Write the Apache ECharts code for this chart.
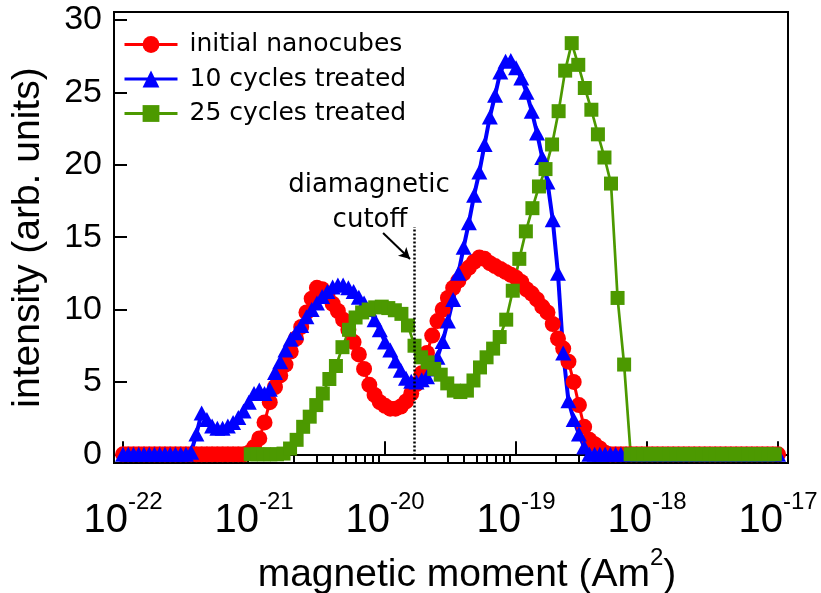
<!DOCTYPE html>
<html><head><meta charset="utf-8">
<script src="https://cdn.jsdelivr.net/npm/echarts@6/dist/echarts.min.js"></script>
<style>html,body{margin:0;padding:0;background:#fff}#c{width:821px;height:593px}</style>
</head><body><div id="c"></div>
<script>
// x positions: log10 of magnetic moment (Am^2)
const expRB = [
-22.00,-21.96,-21.92,-21.88,-21.84,-21.80,-21.76,-21.72,-21.68,-21.64,
-21.60,-21.56,-21.52,-21.48,-21.44,-21.40,-21.36,-21.32,-21.28,-21.24,
-21.20,-21.16,-21.12,-21.08,-21.04,-21.00,-20.96,-20.92,-20.88,-20.84,
-20.80,-20.76,-20.72,-20.68,-20.64,-20.60,-20.56,-20.52,-20.48,-20.44,
-20.40,-20.36,-20.32,-20.28,-20.24,-20.20,-20.16,-20.12,-20.08,-20.04,
-20.00,-19.96,-19.92,-19.88,-19.84,-19.80,-19.76,-19.72,-19.68,-19.64,
-19.60,-19.56,-19.52,-19.48,-19.44,-19.40,-19.36,-19.32,-19.28,-19.24,
-19.20,-19.16,-19.12,-19.08,-19.04,-19.00,-18.96,-18.92,-18.88,-18.84,
-18.80,-18.76,-18.72,-18.68,-18.64,-18.60,-18.56,-18.52,-18.48,-18.44,
-18.40,-18.36,-18.32,-18.28,-18.24,-18.20,-18.16,-18.12,-18.08,-18.04,
-18.00,-17.96,-17.92,-17.88,-17.84,-17.80,-17.76,-17.72,-17.68,-17.64,
-17.60,-17.56,-17.52,-17.48,-17.44,-17.40,-17.36,-17.32,-17.28,-17.24,
-17.20,-17.16,-17.12,-17.08,-17.04,-17.00];

const initialNanocubes = [
0,0,0,0,0,0,0,0,0,0,
0,0,0,0,0,0,0,0,0,0,
0,0,0,0,0.1,0.5,1.1,2.2,3.6,4.65,
5.45,6.2,7.1,8.0,8.8,9.8,10.75,11.5,11.4,11.0,
10.4,9.9,9.3,8.6,7.75,6.9,5.9,4.8,4.1,3.6,
3.35,3.15,3.15,3.3,3.65,4.2,4.85,5.6,7.0,8.2,
9.2,10.0,10.8,11.5,12.0,12.5,12.9,13.3,13.6,13.5,
13.2,13.0,12.8,12.6,12.4,12.2,11.9,11.4,11.1,10.7,
10.2,9.8,9.0,8.0,7.3,6.4,5.0,3.4,1.9,1.0,
0.7,0.4,0.1,0,0,0,0,0,0,0,
0,0,0,0,0,0,0,0,0,0,
0,0,0,0,0,0,0,0,0,0,
0,0,0,0,0,0];

const cycles10 = [
0,0,0,0,0,0,0,0,0,0,
0,0,0,0.15,1.4,2.85,2.4,1.95,1.8,1.8,
1.95,2.2,2.55,3.0,3.6,4.2,4.45,4.2,4.5,5.65,
6.4,7.2,7.95,8.4,8.9,9.5,10.0,10.45,10.9,11.25,
11.55,11.7,11.7,11.5,11.25,10.85,10.45,10.0,9.3,8.6,
7.75,7.2,6.45,5.8,5.25,5.05,5.0,5.15,5.35,5.9,
6.7,7.8,9.2,10.7,12.5,14.3,16.0,17.9,19.5,21.4,
23.3,24.8,26.4,27.15,27.2,26.7,26.0,25.0,23.7,22.2,
20.5,18.8,16.2,12.5,7.0,3.7,2.4,1.4,0.5,0,
0,0,0,0,0,0,0,0,0,0,
0,0,0,0,0,0,0,0,0,0,
0,0,0,0,0,0,0,0,0,0,
0,0,0,0,0,0];

const expG = [
-21.025,-20.975,-20.925,-20.875,-20.825,-20.775,-20.725,-20.675,-20.625,-20.575,
-20.525,-20.475,-20.425,-20.375,-20.325,-20.275,-20.225,-20.175,-20.125,-20.075,
-20.025,-19.975,-19.925,-19.875,-19.825,-19.775,-19.725,-19.675,-19.625,-19.575,
-19.525,-19.475,-19.425,-19.375,-19.325,-19.275,-19.225,-19.175,-19.125,-19.075,
-19.025,-18.975,-18.925,-18.875,-18.825,-18.775,-18.725,-18.675,-18.625,-18.575,
-18.525,-18.475,-18.425,-18.375,-18.325,-18.275,-18.225,-18.175,-18.125,-18.075,
-18.025,-17.975,-17.925,-17.875,-17.825,-17.775,-17.725,-17.675,-17.625,-17.575,
-17.525,-17.475,-17.425,-17.375,-17.325,-17.275,-17.225,-17.175,-17.125,-17.075,
-17.025];

const cycles25 = [
0,0,0,0,0,0.05,0.4,1.0,1.9,2.6,
3.4,4.2,5.2,6.1,7.4,8.6,9.45,9.8,10.0,10.15,
10.2,10.1,9.95,9.7,8.9,7.5,6.7,6.35,5.9,5.5,
4.9,4.4,4.3,4.4,5.1,6.0,6.7,7.3,8.1,9.3,
11.3,13.5,15.4,17.0,18.5,19.7,21.4,23.7,26.5,28.4,
26.9,25.3,23.8,22.1,20.5,18.7,10.8,6.2,0,0,
0,0,0,0,0,0,0,0,0,0,
0,0,0,0,0,0,0,0,0,0,
0];

const seriesNames = ['initial nanocubes','10 cycles treated','25 cycles treated'];
const xMajorExp = [-22,-21,-20,-19,-18,-17];
const yTicks = [0,5,10,15,20,25,30];
const cutoffExp = -19.78;
const cutoffTop = 15.7;
const arrowFrom = [-20.015, 15.28];
const arrowTo = [-19.809, 13.49];

const xMinorExp = [];
for (let n = -22; n < -17; n++) for (let k = 2; k <= 9; k++) xMinorExp.push(n + Math.log10(k));

const AX = '"Liberation Sans", Arial, sans-serif';
const LG = '"DejaVu Sans", sans-serif';
const xMin = -22.069, xMax = -16.924;

const chart = echarts.init(document.getElementById('c'), null, {renderer:'canvas'});
const pair = (xs, ys) => xs.map((x, i) => [x, ys[i]]);

chart.setOption({
  animation: false,
  backgroundColor: '#fff',
  grid: {left:114, right:33, top:12, bottom:130, containLabel:false, outerBoundsMode:'none',
         show:true, borderColor:'#000', borderWidth:2, backgroundColor:'transparent'},
  legend: {
    orient:'vertical', left:123, top:32, padding:0, itemWidth:53, itemHeight:21, itemGap:9.5,
    lineStyle:{width:3},
    textStyle:{fontFamily:LG, fontSize:25, color:'#000', padding:[0,0,0,7]},
    data: seriesNames
  },
  xAxis: [{
    type:'value', min:xMin, max:xMax,
    axisLine:{lineStyle:{color:'#000', width:2}},
    axisTick:{inside:true, length:13, lineStyle:{color:'#000', width:2}, customValues:xMajorExp},
    axisLabel:{
      customValues:xMajorExp, margin:27,
      formatter: v => '{b|10}{s|' + v + '}',
      rich:{
        b:{fontFamily:AX, fontSize:40, color:'#000', verticalAlign:'bottom'},
        s:{fontFamily:AX, fontSize:24, color:'#000', verticalAlign:'top', padding:[0,0,27,0]}
      }
    },
    splitLine:{show:false},
    name:'{p|magnetic moment (Am}{s|2}{a|)}', nameLocation:'middle', nameGap:80,
    nameTextStyle:{
      fontFamily:AX, fontSize:39, color:'#000',
      rich:{
        p:{fontFamily:AX, fontSize:39, color:'#000', verticalAlign:'bottom', padding:[0,0,0,32]},
        a:{fontFamily:AX, fontSize:39, color:'#000', verticalAlign:'bottom'},
        s:{fontFamily:AX, fontSize:24, color:'#000', verticalAlign:'top', padding:[0,0,25,0]}
      }
    }
  },{
    type:'value', min:xMin, max:xMax, position:'bottom',
    axisLine:{show:false}, axisLabel:{show:false}, splitLine:{show:false},
    axisTick:{inside:true, length:7, lineStyle:{color:'#000', width:2}, customValues:xMinorExp}
  }],
  yAxis: {
    type:'value', min:-0.6, max:30.55,
    axisLine:{lineStyle:{color:'#000', width:2}},
    axisTick:{inside:true, length:13, lineStyle:{color:'#000', width:2}, customValues:yTicks},
    axisLabel:{customValues:yTicks, margin:12, fontFamily:AX, fontSize:34, color:'#000'},
    splitLine:{show:false},
    name:'intensity (arb. units)', nameLocation:'middle', nameGap:66,
    nameTextStyle:{fontFamily:AX, fontSize:39, color:'#000'}
  },
  series: [{
    name:seriesNames[0], type:'line', data:pair(expRB, initialNanocubes),
    symbol:'circle', symbolSize:16, itemStyle:{color:'#ff0000'}, lineStyle:{color:'#ff0000', width:3}
  },{
    name:seriesNames[1], type:'line', data:pair(expRB, cycles10),
    symbol:'triangle', symbolSize:[16,15], itemStyle:{color:'#0000ff'}, lineStyle:{color:'#0000ff', width:4}
  },{
    name:seriesNames[2], type:'line', data:pair(expG, cycles25),
    symbol:'rect', symbolSize:14, itemStyle:{color:'#4c9900'}, lineStyle:{color:'#4c9900', width:2.7},
    markLine:{
      silent:true, animation:false, symbol:['none','none'], label:{show:false},
      lineStyle:{color:'#000', width:2.5, type:[2,2]},
      emphasis:{disabled:true},
      data:[
        [{coord:[cutoffExp,-0.35]},{coord:[cutoffExp,cutoffTop]}],
        [{coord:arrowFrom, symbol:'none', lineStyle:{color:'#000', width:2, type:'solid'}},
         {coord:arrowTo, symbol:'arrow', symbolSize:[9,11], lineStyle:{color:'#000', width:2, type:'solid'}}]
      ]
    }
  }],
  graphic:[
    {type:'text', x:369, y:185, silent:true, style:{text:'diamagnetic', font:'26px "DejaVu Sans"', fill:'#000', align:'center', textAlign:'center', verticalAlign:'middle', textVerticalAlign:'middle'}},
    {type:'text', x:370, y:220, silent:true, style:{text:'cutoff', font:'26px "DejaVu Sans"', fill:'#000', align:'center', textAlign:'center', verticalAlign:'middle', textVerticalAlign:'middle'}}
  ]
});
</script>
</body></html>
